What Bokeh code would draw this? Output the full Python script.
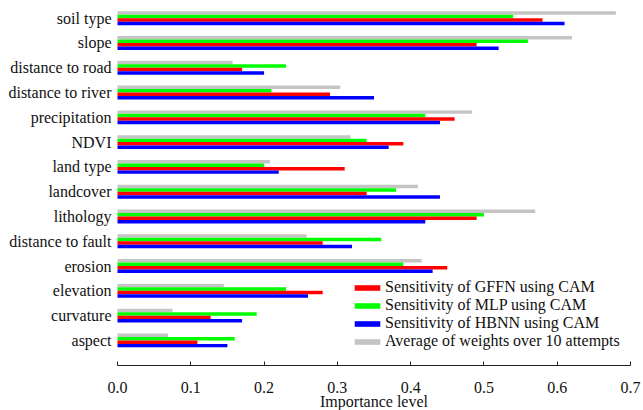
from bokeh.plotting import figure
from bokeh.models import (ColumnDataSource, Range1d, FixedTicker, Legend, LegendItem,
                          Label, CustomJSTickFormatter, LinearAxis)
from bokeh.transform import dodge
from bokeh.embed import file_html
from bokeh.resources import INLINE

categories = ["soil type", "slope", "distance to road", "distance to river", "precipitation",
              "NDVI", "land type", "landcover", "lithology", "distance to fault", "erosion",
              "elevation", "curvature", "aspect"]
gffn = [0.58, 0.49, 0.17, 0.29, 0.46, 0.39, 0.31, 0.34, 0.49, 0.28, 0.45, 0.28, 0.127, 0.109]
mlp = [0.54, 0.56, 0.23, 0.21, 0.42, 0.34, 0.20, 0.38, 0.50, 0.36, 0.39, 0.23, 0.19, 0.16]
hbnn = [0.61, 0.52, 0.20, 0.35, 0.44, 0.37, 0.22, 0.44, 0.42, 0.32, 0.43, 0.26, 0.17, 0.15]
avg = [0.68, 0.62, 0.157, 0.304, 0.484, 0.318, 0.208, 0.41, 0.57, 0.258, 0.415, 0.145, 0.075, 0.069]
x_ticks = [0.0, 0.1, 0.2, 0.3, 0.4, 0.5, 0.6, 0.7]
x_label = "Importance level"

pos = [-i for i in range(len(categories))]
src = ColumnDataSource(dict(y=pos, gffn=gffn, mlp=mlp, hbnn=hbnn, avg=avg))

FONT = "serif"
TXT = "#111111"
W, H = 643, 410
XMIN, XMAX = 0.0, 0.7
Y_AXIS = -len(categories)
Y_TOP = 0.5
# pixel margins around the data area (texts are drawn inside the frame)
ML, MR, MT, MB = 117, 13, 5.3, 45.3
px_x = (W - ML - MR) / (XMAX - XMIN)
px_y = (H - MT - MB) / (Y_TOP - Y_AXIS)

p = figure(width=W, height=H, output_backend="svg", toolbar_location=None,
           x_range=Range1d(XMIN - ML / px_x, XMAX + MR / px_x),
           y_range=Range1d(Y_AXIS - MB / px_y, Y_TOP + MT / px_y),
           min_border=0, x_axis_location=None, y_axis_location=None)
p.outline_line_color = None
p.xgrid.visible = False
p.ygrid.visible = False
p.background_fill_color = "white"

h = 0.14
r_avg = p.hbar(y=dodge("y", 0.21), right="avg", left=0, height=h, source=src,
               fill_color="#c4c4c4", line_color=None)
r_mlp = p.hbar(y=dodge("y", 0.07), right="mlp", left=0, height=h, source=src,
               fill_color="#00ff00", line_color=None)
r_gffn = p.hbar(y=dodge("y", -0.07), right="gffn", left=0, height=h, source=src,
                fill_color="#ff0000", line_color=None)
r_hbnn = p.hbar(y=dodge("y", -0.21), right="hbnn", left=0, height=h, source=src,
                fill_color="#0000ff", line_color=None)

# category names
for pv, c in zip(pos, categories):
    p.add_layout(Label(x=XMIN, y=pv, x_offset=-6, text=c, text_align="right",
                       text_baseline="middle", text_font=FONT, text_font_size="16px",
                       text_color=TXT))

# x axis: line + inward ticks at a fixed location; tick texts drawn as labels
xaxis = LinearAxis(fixed_location=Y_AXIS, bounds=(XMIN, XMAX),
                   ticker=FixedTicker(ticks=x_ticks),
                   formatter=CustomJSTickFormatter(code="return ''"),
                   axis_line_color="#222222", major_tick_line_color="#222222",
                   major_tick_in=4, major_tick_out=0, minor_tick_line_color=None,
                   major_label_text_font_size="1px")
p.add_layout(xaxis, "below")
for t in x_ticks:
    p.add_layout(Label(x=t, y=Y_AXIS, y_offset=-22, text=f"{t:.1f}", text_align="center",
                       text_baseline="alphabetic", text_font=FONT, text_font_size="16px",
                       text_color=TXT))
p.add_layout(Label(x=(XMIN + XMAX) / 2, y=Y_AXIS, y_offset=-36, text=x_label, text_align="center",
                   text_baseline="alphabetic", text_font=FONT, text_font_size="16px",
                   text_color=TXT))

legend = Legend(items=[
    LegendItem(label="Sensitivity of GFFN using CAM", renderers=[r_gffn]),
    LegendItem(label="Sensitivity of MLP using CAM", renderers=[r_mlp]),
    LegendItem(label="Sensitivity of HBNN using CAM", renderers=[r_hbnn]),
    LegendItem(label="Average of weights over 10 attempts", renderers=[r_avg]),
], location=(351, 60), padding=0, margin=0, spacing=0,
    glyph_width=32, glyph_height=7, label_height=16, label_standoff=2,
    label_text_line_height=1.0,
    border_line_color=None, background_fill_alpha=0,
    label_text_font=FONT, label_text_font_size="16px", label_text_color=TXT)
p.add_layout(legend, "center")

open("out.html", "w").write(file_html(p, INLINE))
